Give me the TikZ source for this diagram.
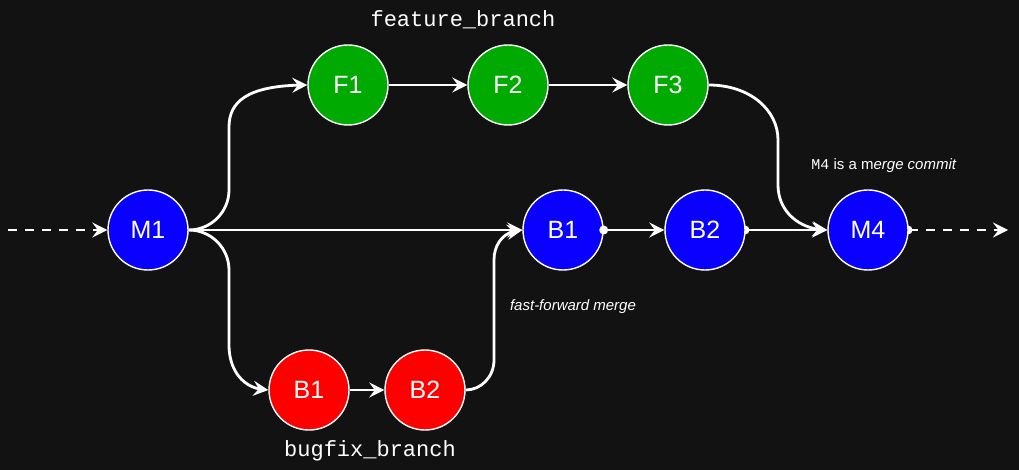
\documentclass[tikz,border=0pt]{standalone}
\usepackage{fontspec}
\setmainfont{Liberation Sans}
\setmonofont{Liberation Mono}
\usetikzlibrary{arrows.meta,bending}
\definecolor{bgc}{HTML}{121212}
\definecolor{gfill}{HTML}{00AA00}
\definecolor{bfill}{HTML}{0A00FF}
\definecolor{rfill}{HTML}{FF0000}
\tikzset{
  commit/.style={circle, draw=white, line width=1.4pt, minimum size=80pt, inner sep=0pt,
    text=white, font=\fontsize{25}{25}\selectfont},
  gc/.style={commit, fill=gfill},
  bc/.style={commit, fill=bfill},
  rc/.style={commit, fill=rfill},
  conn/.style={draw=white, line width=2.8pt, -{Stealth[length=15pt,width=15pt,inset=5.5pt]}},
  dconn/.style={conn, dash pattern=on 9pt off 8pt},
  branchlabel/.style={text=white, font=\fontsize{22}{22}\selectfont\ttfamily},
  note/.style={text=white, font=\fontsize{15}{15}\selectfont},
  dotmark/.style={fill=white, draw=none}
}
\begin{document}
\begin{tikzpicture}[x=1pt,y=-1pt]
\fill[bgc] (0,0) rectangle (1019,470);
\useasboundingbox (0,0) rectangle (1019,470);
% half-hidden start dots (drawn below nodes)
\fill[dotmark] (745,230) circle (4.5pt);
\fill[dotmark] (908,230) circle (4.5pt);
% nodes
\node[bc] (M1) at (148,230) {M1};
\node[gc] (F1) at (348,85) {F1};
\node[gc] (F2) at (508,85) {F2};
\node[gc] (F3) at (668,85) {F3};
\node[bc] (B1) at (563,230) {B1};
\node[bc] (B2) at (705,230) {B2};
\node[bc] (M4) at (868,230) {M4};
\node[rc] (R1) at (309,390) {B1};
\node[rc] (R2) at (425,390) {B2};
% labels
\node[branchlabel] (fb) at (463,20) {feature\_branch};
\node[branchlabel] (bb) at (370,451) {bugfix\_branch};
\node[note] (n1) at (884,166) {\texttt{M4} is a m\textit{erge commit}};
\node[note] (n2) at (573,307) {\textit{fast-forward merge}};
% free ends
\coordinate (start) at (8,230);
\coordinate (end) at (1008,230);
% connectors
\draw[dconn] (start) -- (M1.west);
\draw[conn] (M1.east) .. controls (211,230) and (229,212) .. (229,190) -- (229,127)
  .. controls (229,100) and (250,85) .. (F1.west);
\draw[conn] (M1.east) .. controls (211,230) and (229,248) .. (229,270) -- (229,345)
  .. controls (229,372) and (245,390) .. (R1.west);
\draw[conn] (M1.east) -- (B1.west);
\draw[conn] (F1.east) -- (F2.west);
\draw[conn] (F2.east) -- (F3.west);
\draw[conn] (R1.east) -- (R2.west);
\draw[conn] (R2.east) .. controls (481,390) and (494,377) .. (494,360) -- (494,260)
  .. controls (494,243) and (505,230) .. (B1.west);
\draw[conn] (B1.east) -- (B2.west);
\fill[dotmark] (B1.east) circle (4.5pt);
\draw[conn] (B2.east) -- (M4.west);
\draw[conn] (F3.east) .. controls (750,85) and (778,110) .. (778,140) -- (778,185)
  .. controls (778,212) and (800,230) .. (M4.west);
\draw[dconn] (M4.east) -- (end);
\end{tikzpicture}
\end{document}
